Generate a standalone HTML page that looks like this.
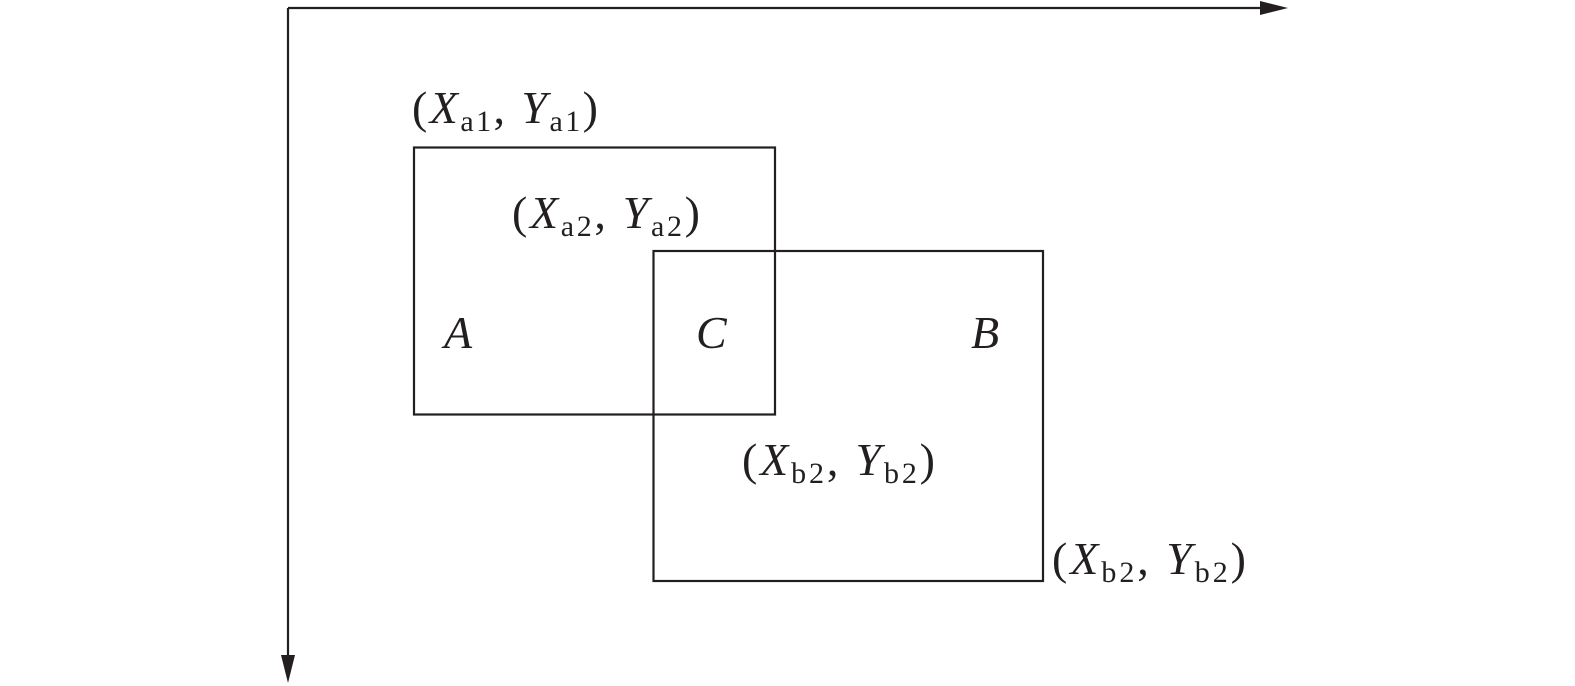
<!DOCTYPE html>
<html><head><meta charset="utf-8"><style>html,body{margin:0;padding:0;background:#fff}svg{display:block}</style></head>
<body>
<svg width="1575" height="686" viewBox="0 0 1575 686" xmlns="http://www.w3.org/2000/svg" font-family="Liberation Serif, serif" fill="#231f20">
<g stroke="#231f20" stroke-width="2.2" fill="none">
<line x1="288" y1="8" x2="1265" y2="8"/>
<line x1="288" y1="8" x2="288" y2="662"/>
<rect x="414" y="147.5" width="361" height="267"/>
<rect x="653.5" y="251" width="389.5" height="330"/>
</g>
<polygon points="1288,8 1260,1 1260,15"/>
<polygon points="288,683 281,655 295,655"/>
<g font-size="46">
<text x="412" y="123" textLength="186" lengthAdjust="spacing">(<tspan font-style="italic">X</tspan><tspan font-size="30" dy="8">a1</tspan><tspan dy="-8">, </tspan><tspan font-style="italic">Y</tspan><tspan font-size="30" dy="8">a1</tspan><tspan dy="-8">)</tspan></text>
<text x="512" y="228" textLength="188" lengthAdjust="spacing">(<tspan font-style="italic">X</tspan><tspan font-size="30" dy="8">a2</tspan><tspan dy="-8">, </tspan><tspan font-style="italic">Y</tspan><tspan font-size="30" dy="8">a2</tspan><tspan dy="-8">)</tspan></text>
<text x="742" y="475" textLength="193" lengthAdjust="spacing">(<tspan font-style="italic">X</tspan><tspan font-size="30" dy="8">b2</tspan><tspan dy="-8">, </tspan><tspan font-style="italic">Y</tspan><tspan font-size="30" dy="8">b2</tspan><tspan dy="-8">)</tspan></text>
<text x="1052" y="574" textLength="194" lengthAdjust="spacing">(<tspan font-style="italic">X</tspan><tspan font-size="30" dy="8">b2</tspan><tspan dy="-8">, </tspan><tspan font-style="italic">Y</tspan><tspan font-size="30" dy="8">b2</tspan><tspan dy="-8">)</tspan></text>
<text x="444" y="348" font-style="italic">A</text>
<text x="696" y="348" font-style="italic">C</text>
<text x="971" y="348" font-style="italic">B</text>
</g>
</svg>
</body></html>
